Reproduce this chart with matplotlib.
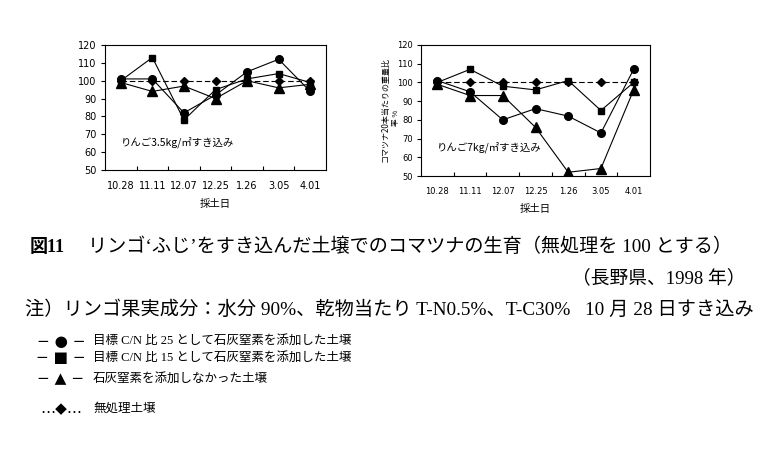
import numpy as np
import matplotlib
matplotlib.use("Agg")
import matplotlib.pyplot as plt

plt.rcParams['font.family'] = ['DejaVu Sans', 'Noto Sans CJK JP']

dates = ['10.28', '11.11', '12.07', '12.25', '1.26', '3.05', '4.01']

# りんご3.5kg/㎡
left_cn25 = [101, 101, 82, 92, 105, 112, 94]
left_cn15 = [100, 113, 78, 95, 101, 104, 99]
left_none = [99, 94, 97, 90, 100, 96, 98]
left_ctrl = [100, 100, 100, 100, 100, 100, 100]

# りんご7kg/㎡
right_cn25 = [101, 95, 80, 86, 82, 73, 107]
right_cn15 = [100, 107, 98, 96, 101, 85, 100]
right_none = [99, 93, 93, 76, 52, 54, 96]
right_ctrl = [100, 100, 100, 100, 100, 100, 100]

yticks = [50, 60, 70, 80, 90, 100, 110, 120]

jp = ['Noto Sans CJK JP', 'DejaVu Sans']
serif = ['Liberation Serif', 'Noto Sans CJK JP']

W, H = 781, 450
fig = plt.figure(figsize=(W / 100, H / 100), dpi=100)


def px(x0, y0, x1, y1):
    return [x0 / W, 1 - y1 / H, (x1 - x0) / W, (y1 - y0) / H]


def draw(ax, cn25, cn15, none, ctrl, label, xfs, yfs):
    x = np.arange(len(dates))
    kw = dict(color='black', lw=0.8, mfc='black', mec='black')
    ax.plot(x, ctrl, marker='D', ms=4.5, dashes=(5, 2.5), **kw)
    ax.plot(x, cn15, marker='s', ms=4.5, **kw)
    ax.plot(x, none, marker='^', ms=6.5, **kw)
    ax.plot(x, cn25, marker='o', ms=5.5, **kw)
    ax.set_xlim(-0.5, len(dates) - 0.5)
    ax.set_ylim(50, 120)
    ax.set_yticks(yticks)
    ax.set_xticks(x)
    ax.set_xticklabels(dates, fontsize=xfs)
    ax.set_xticks(np.arange(0.5, len(dates) - 1, 1), minor=True)
    ax.tick_params(axis='x', which='major', length=0, pad=8)
    ax.tick_params(axis='x', which='minor', direction='in', length=3, width=0.8)
    ax.tick_params(axis='y', direction='out', length=3, width=0.8, labelsize=yfs, pad=3)
    for s in ax.spines.values():
        s.set_linewidth(0.8)
    ax.text(0.07, 0.22, label, transform=ax.transAxes, fontsize=7.5,
            family=jp, va='center')
    ax.set_xlabel('採土日', family=jp, fontsize=7.5, labelpad=6)


ax1 = fig.add_axes(px(105, 45, 326, 170))
draw(ax1, left_cn25, left_cn15, left_none, left_ctrl,
     'りんご3.5kg/㎡すき込み', 7, 7)

ax2 = fig.add_axes(px(421, 45, 650, 176))
draw(ax2, right_cn25, right_cn15, right_none, right_ctrl,
     'りんご7kg/㎡すき込み', 6, 6)

fig.text(385 / W, 1 - 110 / H, 'コマツナ20本当たりの重量比', rotation=90,
         family=jp, fontsize=5.8, ha='center', va='center')
fig.text(396 / W, 1 - 118 / H, '率 %', rotation=90,
         family=jp, fontsize=5.5, ha='center', va='center')

# caption
fig.text(30 / W, 1 - 247 / H, '図11', family=serif, fontsize=13,
         fontweight='bold', va='center')
fig.text(88 / W, 1 - 247 / H,
         'リンゴ‘ふじ’をすき込んだ土壌でのコマツナの生育（無処理を 100 とする）',
         family=serif, fontsize=13.8, va='center')
fig.text(745 / W, 1 - 278 / H, '（長野県、1998 年）', family=serif,
         fontsize=13.5, va='center', ha='right')
fig.text(25 / W, 1 - 310 / H,
         '注）リンゴ果実成分：水分 90%、乾物当たり T-N0.5%、T-C30%   10 月 28 日すき込み',
         family=serif, fontsize=13.85, va='center')

legend_rows = [
    ('− ● −', '目標 C/N 比 25 として石灰窒素を添加した土壌', 341),
    ('− ■ −', '目標 C/N 比 15 として石灰窒素を添加した土壌', 358),
    ('− ▲ −', '石灰窒素を添加しなかった土壌', 379),
    ('…◆…', '無処理土壌', 409),
]
for sym, txt, y in legend_rows:
    fig.text(61 / W, 1 - y / H, sym, family=['DejaVu Sans'], fontsize=11,
             va='center', ha='center')
    fig.text(93 / W, 1 - y / H, txt, family=serif, fontsize=9, va='center')

fig.savefig('out.png', dpi=100)
